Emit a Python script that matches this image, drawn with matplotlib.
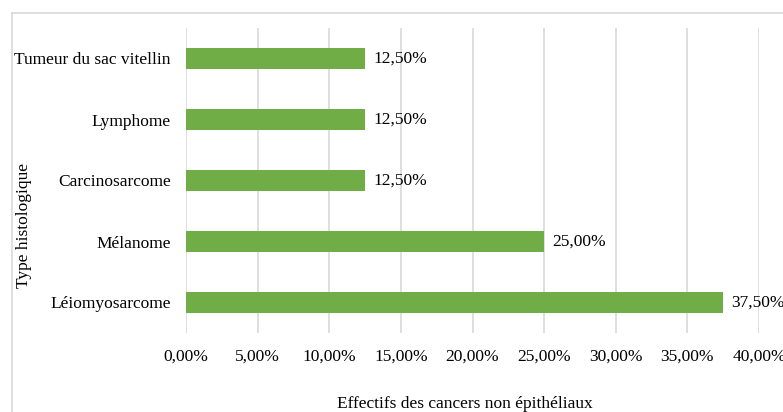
import matplotlib
matplotlib.use("Agg")
import matplotlib.pyplot as plt
from matplotlib.lines import Line2D
from matplotlib.ticker import FuncFormatter

categories = ["Léiomyosarcome", "Mélanome", "Carcinosarcome", "Lymphome", "Tumeur du sac vitellin"]
values = [37.5, 25.0, 12.5, 12.5, 12.5]
xticks = [0, 5, 10, 15, 20, 25, 30, 35, 40]

plt.rcParams['font.family'] = ['Liberation Serif', 'DejaVu Serif']
FS = 12.5

W, H = 783, 412
fig = plt.figure(figsize=(W / 100, H / 100), dpi=100)
x0, x1 = 186, 759
y0, y1 = 28, 333
ax = fig.add_axes([x0 / W, 1 - y1 / H, (x1 - x0) / W, (y1 - y0) / H])

pos = list(range(len(categories)))
ax.barh(pos, values, height=0.35, color="#70AD47", zorder=3)
ax.set_ylim(-0.5, len(categories) - 0.5)
ax.set_xlim(0, 40)
ax.set_xticks(xticks)
ax.xaxis.set_major_formatter(FuncFormatter(lambda v, p: f"{v:.2f}%".replace(".", ",")))
ax.set_yticks(pos)
ax.set_yticklabels(categories)
ax.tick_params(axis='both', length=0, labelsize=FS, colors="#000000")
ax.tick_params(axis='x', pad=11)
ax.tick_params(axis='y', pad=11)
ax.grid(axis='x', color="#D9D9D9", linewidth=1.2, zorder=0)
for s in ax.spines.values():
    s.set_visible(False)

for p, v in zip(pos, values):
    ax.annotate(f"{v:.2f}%".replace(".", ","), (v, p), xytext=(6, 0),
                textcoords="offset points", va="center", ha="left", fontsize=FS)

fig.text(465 / W, 1 - 404 / H, "Effectifs des cancers non épithéliaux",
         ha="center", va="center", fontsize=FS)
fig.text(24 / W, 1 - 226 / H, "Type histologique", rotation=90,
         ha="center", va="center", fontsize=FS)

fig.add_artist(Line2D([12 / W, 12 / W], [0, 1 - 13 / H], transform=fig.transFigure,
                      color="#D9D9D9", linewidth=1.2))
fig.add_artist(Line2D([12 / W, 1], [1 - 13 / H, 1 - 13 / H], transform=fig.transFigure,
                      color="#D9D9D9", linewidth=1.2))

fig.savefig("out.png", dpi=100)
